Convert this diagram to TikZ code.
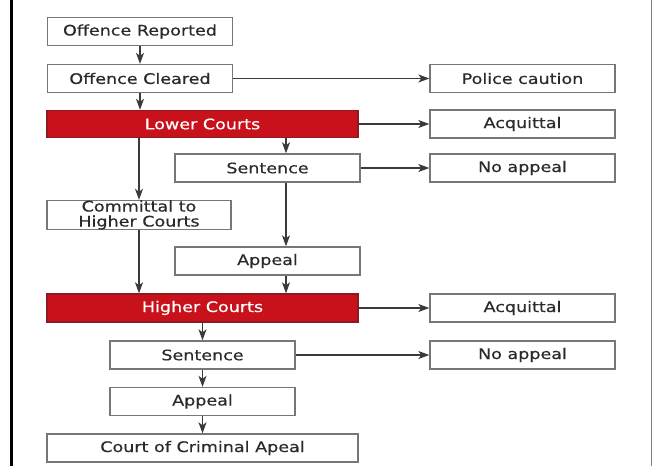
\documentclass[tikz,border=0pt]{standalone}
\usepackage{fontspec}
\newfontfamily\flowfont{DejaVu Sans}[FakeStretch=1.21, FakeBold=0.4]
\usetikzlibrary{arrows.meta,positioning,calc}
\definecolor{boxline}{HTML}{777777}
\definecolor{courtred}{HTML}{C8111B}
\definecolor{courtline}{HTML}{8E1A1F}
\definecolor{txt}{HTML}{2A2A2A}
\definecolor{arrline}{HTML}{3A3A3A}

\begin{document}
\begin{tikzpicture}[x=1pt, y=-1pt]
    \tikzstyle{stage} = [rectangle, draw=boxline, line width=1.4pt, fill=white, text=txt, inner sep=0pt, minimum width=185pt, minimum height=28pt, font=\flowfont\fontsize{14.5}{15}\selectfont, align=center]
    \tikzstyle{court} = [stage, fill=courtred, draw=courtline, text=white, minimum width=311pt, minimum height=27pt]
    \tikzstyle{flow} = [line width=1.2pt, draw=arrline, -{Stealth[length=11pt, width=8pt, inset=3pt]}]

    \useasboundingbox (0,0) rectangle (652,466);
    % Rahmen
    \fill[white] (0,0) rectangle (652,466);
    \draw[line width=3pt] (11,0) -- (11,466);
    \draw[line width=1pt, gray] (651,0) -- (651,466);

    % Polizei
    \node[stage] (rep) at (140,31.5) {Offence Reported};
    \node[stage] (clr) at (140,78.5) {Offence Cleared};
    \node[stage] (pol) at (522.5,78.5) {Police caution};

    % Untere Gerichte
    \node[court] (low) at (202.5,124) {Lower Courts};
    \node[stage] (acq1) at (522.5,124) {Acquittal};
    \node[stage] (sen1) at (267.5,168) {Sentence};
    \node[stage] (noap1) at (522.5,168) {No appeal};
    \node[stage, minimum width=184pt] (com) at (139,215) {Committal to\\Higher Courts};
    \node[stage] (app1) at (267.5,261) {Appeal};
    \coordinate (mid) at (286,0);

    % Hoehere Gerichte
    \node[court, minimum height=28pt] (high) at (202.5,308) {Higher Courts};
    \node[stage] (acq2) at (522.5,308) {Acquittal};
    \node[stage] (sen2) at (202.5,355) {Sentence};
    \node[stage] (noap2) at (522.5,355) {No appeal};
    \node[stage] (app2) at (202.5,401.5) {Appeal};
    \node[stage, minimum width=311pt] (cca) at (202.5,448) {Court of Criminal Apeal};

    % Verbindungen
    \draw[flow] (rep) -- (clr);
    \draw[flow] (clr) -- (pol);
    \draw[flow] (clr.south) -- (low.north -| clr.south);
    \draw[flow] (low) -- (acq1);
    \draw[flow] (low.south -| mid) -- (sen1.north -| mid);
    \draw[flow] (low.south -| com.north) -- (com.north);
    \draw[flow] (sen1) -- (noap1);
    \draw[flow] (sen1.south -| mid) -- (app1.north -| mid);
    \draw[flow] (app1.south -| mid) -- (high.north -| mid);
    \draw[flow] (com.south) -- (high.north -| com.south);

    \draw[flow] (high) -- (acq2);
    \draw[flow] (high.south -| sen2.north) -- (sen2.north);
    \draw[flow] (sen2) -- (noap2);
    \draw[flow] (sen2) -- (app2);
    \draw[flow] (app2) -- (cca);
\end{tikzpicture}
\end{document}
